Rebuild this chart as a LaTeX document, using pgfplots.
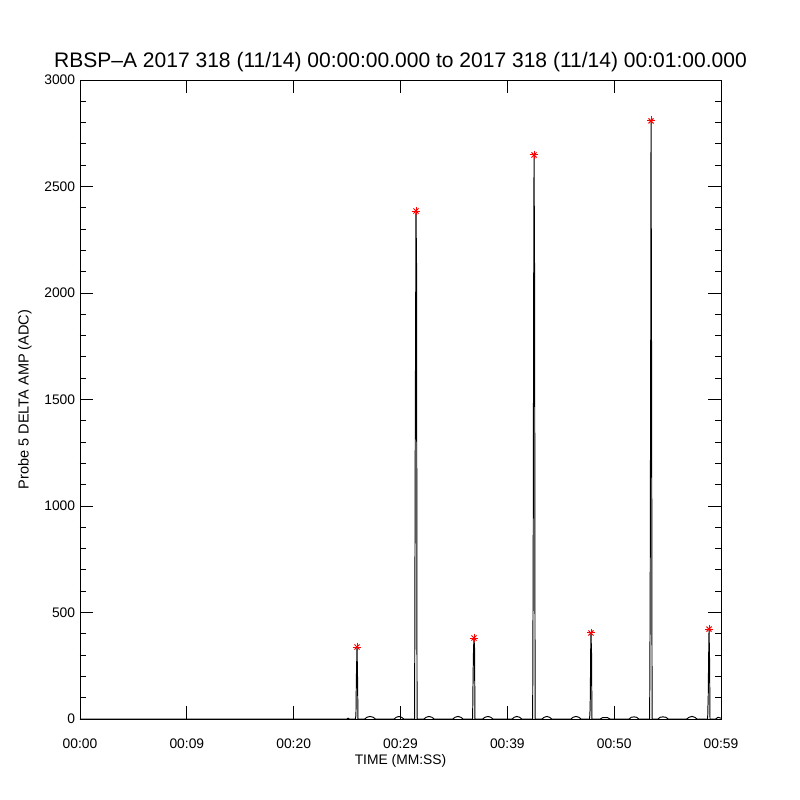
\documentclass[border=0pt]{standalone}
\usepackage{fontspec}
\setmainfont{Liberation Sans}
\usepackage{pgfplots}
\pgfplotsset{compat=1.18}
\begin{document}
\begin{tikzpicture}
\begin{axis}[
  scale only axis,
  width=6.41in, height=6.39in,
  xmin=0, xmax=60, ymin=0, ymax=3000,
  xtick={0,10,20,30,40,50,60},
  xticklabels={00:00,00:09,00:20,00:29,00:39,00:50,00:59},
  ytick={0,500,1000,1500,2000,2500,3000},
  minor y tick num=4,
  tick align=inside,
  major tick length=0.13in,
  minor tick length=0.06in,
  every tick/.style={black, line width=0.6pt},
  axis line style={line width=0.7pt},
  /pgf/number format/assume math mode=true,
  /pgf/number format/1000 sep={},
  scaled y ticks=false,
  tick label style={font=\fontsize{10}{12}\selectfont},
  xticklabel style={yshift=-0.15in},
  yticklabel style={xshift=0.0in},
  title={RBSP\textendash A 2017 318 (11/14) 00:00:00.000 to 2017 318 (11/14) 00:01:00.000},
  title style={font=\fontsize{15.2}{18}\selectfont, at={(axis description cs:0.5,1)}, anchor=south, yshift=-0.05in},
  xlabel={TIME (MM:SS)},
  xlabel style={font=\fontsize{10}{12}\selectfont, at={(axis description cs:0.5,0)}, anchor=north, yshift=-0.31in},
  ylabel={Probe 5 DELTA AMP (ADC)},
  ylabel style={font=\fontsize{10.5}{12}\selectfont, at={(axis description cs:-0.086,0.5)}, anchor=center},
]
\addplot[black, line width=0.7pt] coordinates {
(0,0) (24.9,0)
(25.0,0)(25.1,4)(25.2,0)
(25.78,0)(25.83,19)(25.87,188)(25.93,338)(25.98,188)(26.02,0)
(26.65,0)(26.85,8)(27.15,12)(27.45,8)(27.65,0)
(29.4,0)(29.6,8)(29.86,12)(30.1,8)(30.3,0)
(31.32,0)(31.38,1280)(31.45,2385)(31.50,2136)(31.55,0)
(32.2,0)(32.4,8)(32.67,12)(32.95,8)(33.15,0)
(34.9,0)(35.1,8)(35.38,12)(35.65,8)(35.85,0)
(36.75,0)(36.80,220)(36.84,333)(36.88,380)(36.93,333)(36.97,0)
(37.7,0)(37.9,8)(38.19,12)(38.45,8)(38.65,0)
(40.45,0)(40.65,8)(40.90,12)(41.15,8)(41.35,0)
(42.37,0)(42.42,750)(42.47,2075)(42.50,2648)(42.55,2075)(42.60,0)
(43.25,0)(43.45,8)(43.71,12)(43.95,8)(44.15,0)
(45.95,0)(46.15,8)(46.43,12)(46.7,8)(46.9,0)
(47.70,0)(47.74,38)(47.77,108)(47.80,310)(47.83,404)(47.88,310)(47.92,0)
(48.7,0)(48.9,6)(49.14,7)(49.4,6)(49.6,0)
(51.4,0)(51.6,8)(51.86,10)(52.1,8)(52.3,0)
(53.32,0)(53.37,560)(53.42,1680)(53.45,2808)(53.50,1680)(53.55,0)
(54.1,0)(54.3,8)(54.57,10)(54.85,8)(55.05,0)
(56.8,0)(57.0,8)(57.29,12)(57.55,8)(57.75,0)
(58.75,0)(58.78,61)(58.80,85)(58.84,272)(58.88,422)(58.93,272)(58.97,0)
(59.5,0)(59.72,8)(60,4)
};
\addplot[only marks, mark=+, red, mark size=3.2pt, mark options={line width=0.7pt}] coordinates {
(25.93,338)(31.45,2385)(36.88,380)(42.50,2648)(47.83,404)(53.45,2808)(58.88,422)
};
\addplot[only marks, mark=x, red, mark size=2.6pt, mark options={line width=0.7pt}] coordinates {
(25.93,338)(31.45,2385)(36.88,380)(42.50,2648)(47.83,404)(53.45,2808)(58.88,422)
};
\coordinate (ll) at (rel axis cs:0,0);
\coordinate (ur) at (rel axis cs:1,1);
\end{axis}
\path ([shift={(-0.80in,-0.81in)}]ll) rectangle ([shift={(0.79in,0.80in)}]ur);
\end{tikzpicture}
\end{document}
